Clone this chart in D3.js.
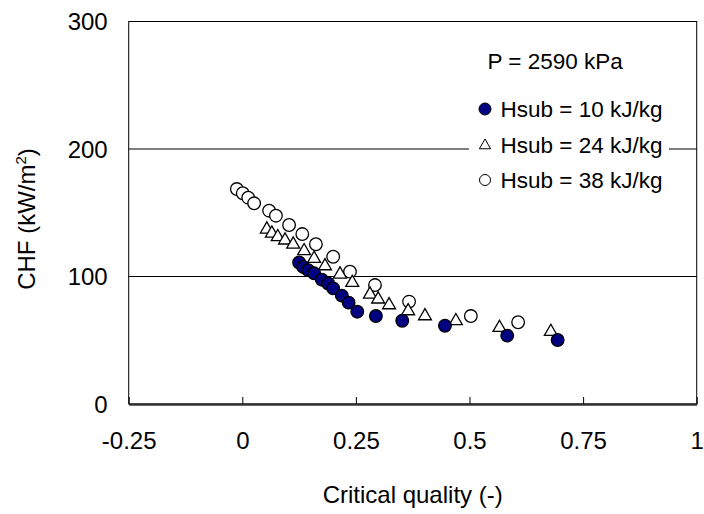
<!DOCTYPE html>
<html>
<head>
    <meta charset="utf-8">
    <title>CHF vs critical quality</title>
    <script src="https://cdn.jsdelivr.net/npm/d3@7"></script>
    <style>
        body { margin: 0; background: #fff; }
        text { font-family: Arial, "Liberation Sans", sans-serif; fill: #000; }
    </style>
</head>
<body>
<div id="chart"></div>
<script>
    // Hsub = 10 kJ/kg
    const quality10 = [0.125, 0.134, 0.145, 0.158, 0.175, 0.189, 0.200, 0.219, 0.234, 0.253, 0.294, 0.352, 0.446, 0.583, 0.694];
    const chf10 = [111, 107.5, 105, 102.5, 97.5, 94.5, 90.7, 85, 79.5, 72.4, 69, 65.3, 61.4, 53.6, 50.2];

    // Hsub = 24 kJ/kg
    const quality24 = [0.054, 0.065, 0.078, 0.094, 0.112, 0.136, 0.158, 0.182, 0.215, 0.242, 0.281, 0.299, 0.323, 0.365, 0.402, 0.470, 0.566, 0.679];
    const chf24 = [137.8, 134.6, 131.8, 129.2, 126, 120.8, 114.8, 109, 102.5, 95.9, 86.8, 82.9, 78.4, 73.7, 69.8, 65.9, 60.6, 57.5];

    // Hsub = 38 kJ/kg
    const quality38 = [-0.012, 0.001, 0.013, 0.026, 0.059, 0.074, 0.103, 0.132, 0.162, 0.200, 0.237, 0.292, 0.367, 0.503, 0.607];
    const chf38 = [168.6, 165.3, 161.8, 157.4, 151.6, 147.7, 140.4, 133.3, 125.3, 115.5, 103.8, 93.3, 80.3, 69.0, 64.1];

    const xTicks = [-0.25, 0, 0.25, 0.5, 0.75, 1];
    const yTicks = [0, 100, 200, 300];
    const seriesNames = ["Hsub = 10 kJ/kg", "Hsub = 24 kJ/kg", "Hsub = 38 kJ/kg"];

    const width = 704, height = 514;
    const plotLeft = 128.7, plotRight = 696.7, plotTop = 21.5, plotBottom = 404;

    const svg = d3.select("#chart").append("svg")
        .attr("width", width)
        .attr("height", height);

    const x = d3.scaleLinear().domain([-0.25, 1]).range([plotLeft, plotRight]);
    const y = d3.scaleLinear().domain([0, 300]).range([plotBottom, plotTop]);

    // gridlines
    svg.append("g")
        .selectAll("line")
        .data(yTicks.filter(d => d > 0 && d < 300))
        .join("line")
        .attr("x1", plotLeft).attr("x2", plotRight)
        .attr("y1", d => y(d)).attr("y2", d => y(d))
        .attr("stroke", "#000")
        .attr("stroke-width", 1);

    // frame
    svg.append("rect")
        .attr("x", plotLeft).attr("y", plotTop)
        .attr("width", plotRight - plotLeft).attr("height", plotBottom - plotTop)
        .attr("fill", "none")
        .attr("stroke", "#000")
        .attr("stroke-width", 1);

    // x axis (ticks pointing inside)
    const xAxis = svg.append("g")
        .attr("transform", "translate(0," + plotBottom + ")")
        .call(d3.axisBottom(x).tickValues(xTicks).tickSizeInner(-7).tickSizeOuter(0).tickPadding(0)
            .tickFormat(d => String(d)));
    xAxis.select(".domain").attr("stroke", "#333").attr("stroke-width", 2.5);
    xAxis.selectAll(".tick line").attr("stroke", "#000");
    xAxis.selectAll(".tick text")
        .attr("y", 45)
        .attr("dy", 0)
        .style("font-size", "24px")
        .style("font-family", "Arial, 'Liberation Sans', sans-serif");

    // y axis labels
    const yAxis = svg.append("g")
        .attr("transform", "translate(" + plotLeft + ",0)")
        .call(d3.axisLeft(y).tickValues(yTicks).tickSize(0).tickPadding(21));
    yAxis.select(".domain").remove();
    yAxis.selectAll(".tick text")
        .attr("dy", "0.35em")
        .style("font-size", "24px")
        .style("font-family", "Arial, 'Liberation Sans', sans-serif");

    // axis titles
    svg.append("text")
        .attr("x", (plotLeft + plotRight) / 2)
        .attr("y", 503)
        .attr("text-anchor", "middle")
        .style("font-size", "24px")
        .text("Critical quality (-)");

    const yTitle = svg.append("text")
        .attr("transform", "translate(35,219) rotate(-90)")
        .attr("text-anchor", "middle")
        .style("font-size", "24px");
    yTitle.append("tspan").text("CHF (kW/m");
    yTitle.append("tspan").attr("dy", -9).style("font-size", "15px").text("2");
    yTitle.append("tspan").attr("dy", 9).text(")");

    // legend background covers gridline
    svg.append("rect")
        .attr("x", 469).attr("y", 40)
        .attr("width", 200).attr("height", 160)
        .attr("fill", "#fff");

    const triangle = d3.symbol().type(d3.symbolTriangle).size(72);

    // points: 38, 24 then 10 on top
    svg.append("g")
        .selectAll("circle")
        .data(d3.zip(quality38, chf38))
        .join("circle")
        .attr("cx", d => x(d[0]))
        .attr("cy", d => y(d[1]))
        .attr("r", 6.3)
        .attr("fill", "#fff")
        .attr("stroke", "#000")
        .attr("stroke-width", 1.3);

    svg.append("g")
        .selectAll("path")
        .data(d3.zip(quality24, chf24))
        .join("path")
        .attr("d", triangle)
        .attr("transform", d => "translate(" + x(d[0]) + "," + (y(d[1]) + 1) + ")")
        .attr("fill", "#fff")
        .attr("stroke", "#000")
        .attr("stroke-width", 1.3);

    svg.append("g")
        .selectAll("circle")
        .data(d3.zip(quality10, chf10))
        .join("circle")
        .attr("cx", d => x(d[0]))
        .attr("cy", d => y(d[1]))
        .attr("r", 6.3)
        .attr("fill", "#000080")
        .attr("stroke", "#000")
        .attr("stroke-width", 1.3);

    // legend
    svg.append("text")
        .attr("x", 487.5).attr("y", 69)
        .style("font-size", "22.5px")
        .text("P = 2590 kPa");

    const legend = svg.append("g")
        .selectAll("g")
        .data(seriesNames)
        .join("g")
        .attr("transform", (d, i) => "translate(485," + (109 + i * 35.5) + ")");

    legend.each(function (d, i) {
        const g = d3.select(this);
        if (i === 0) {
            g.append("circle").attr("r", 6).attr("fill", "#000080").attr("stroke", "#000").attr("stroke-width", 1);
        } else if (i === 1) {
            g.append("path").attr("d", d3.symbol().type(d3.symbolTriangle).size(55)).attr("transform", "translate(0,1)")
                .attr("fill", "#fff").attr("stroke", "#000").attr("stroke-width", 1);
        } else {
            g.append("circle").attr("r", 5.5).attr("fill", "#fff").attr("stroke", "#000").attr("stroke-width", 1);
        }
        g.append("text")
            .attr("x", 15.5)
            .attr("y", 8)
            .style("font-size", "22.5px")
            .text(d);
    });
</script>
</body>
</html>
